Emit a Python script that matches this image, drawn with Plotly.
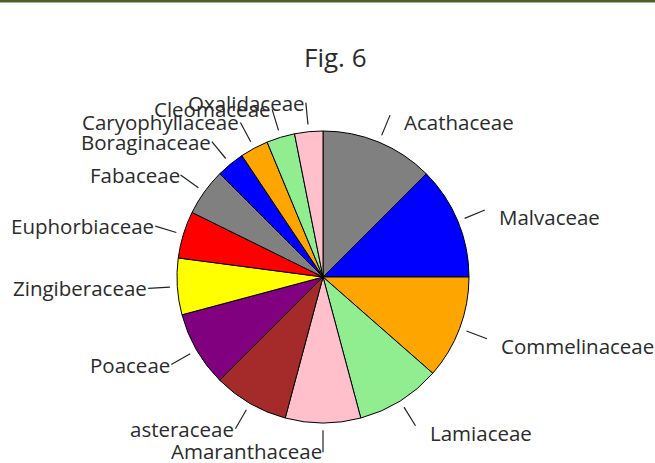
import math
import plotly.graph_objects as go

# Family counts (Fig. 6)
families = ["Acathaceae", "Malvaceae", "Commelinaceae", "Lamiaceae", "Amaranthaceae",
            "asteraceae", "Poaceae", "Zingiberaceae", "Euphorbiaceae", "Fabaceae",
            "Boraginaceae", "Caryophyllaceae", "Cleomaceae", "Oxalidaceae"]
counts = [12, 12, 11, 9, 8, 8, 8, 6, 5, 5, 3, 3, 3, 3]
colors = ["#808080", "#0000FF", "#FFA500", "#90EE90", "#FFC0CB",
          "#A52A2A", "#800080", "#FFFF00", "#FF0000", "#808080",
          "#0000FF", "#FFA500", "#90EE90", "#FFC0CB"]

W, H = 655, 463
CX, CY, R = 323, 277, 146          # pie centre and radius in pixels
FONT = "Open Sans"
TXT = "#2b2b2b"
LABEL_SIZE = 20.5


def px(x):
    return x / W


def py(y):
    return 1 - y / H


fig = go.Figure(go.Pie(
    labels=families, values=counts, sort=False, direction="clockwise", rotation=0,
    marker=dict(colors=colors, line=dict(color="black", width=1)),
    textinfo="none", hoverinfo="label+value", showlegend=False,
    domain=dict(x=[px(CX - R), px(CX + R)], y=[py(CY + R), py(CY - R)]),
))

# Leader lines and labels placed at each slice's mid angle
shapes = [dict(type="rect", xref="paper", yref="paper", x0=0, x1=1, y0=py(2.5), y1=1,
               fillcolor="#4D5F22", line=dict(width=0), layer="above")]
annotations = []
total = sum(counts)
cum = 0
for name, v in zip(families, counts):
    theta = 2 * math.pi * (cum + v / 2) / total
    cum += v
    s, c = math.sin(theta), math.cos(theta)
    x0, y0 = CX + 1.05 * R * s, CY - 1.05 * R * c
    x1, y1 = CX + 1.20 * R * s, CY - 1.20 * R * c
    shapes.append(dict(type="line", xref="paper", yref="paper",
                       x0=px(x0), y0=py(y0), x1=px(x1), y1=py(y1),
                       line=dict(color="#222222", width=1.2)))
    if s > 1e-9:
        annotations.append(dict(x=px(x1 + 12), y=py(y1 + 7), xref="paper", yref="paper",
                                text=name, showarrow=False, xanchor="left", yanchor="middle",
                                font=dict(family=FONT, size=LABEL_SIZE, color=TXT)))
    else:
        annotations.append(dict(x=px(x1 + 1), y=py(min(y1, H - 12)), xref="paper", yref="paper",
                                text=name, showarrow=False, xanchor="right", yanchor="middle",
                                font=dict(family=FONT, size=LABEL_SIZE, color=TXT)))

annotations.append(dict(x=px(335), y=py(57), xref="paper", yref="paper", text="Fig. 6",
                        showarrow=False, xanchor="center", yanchor="middle",
                        font=dict(family=FONT, size=26, color=TXT)))

fig.update_layout(
    width=W, height=H, margin=dict(l=0, r=0, t=0, b=0),
    paper_bgcolor="white", plot_bgcolor="white",
    shapes=shapes, annotations=annotations,
)

fig.write_html("out.html")
